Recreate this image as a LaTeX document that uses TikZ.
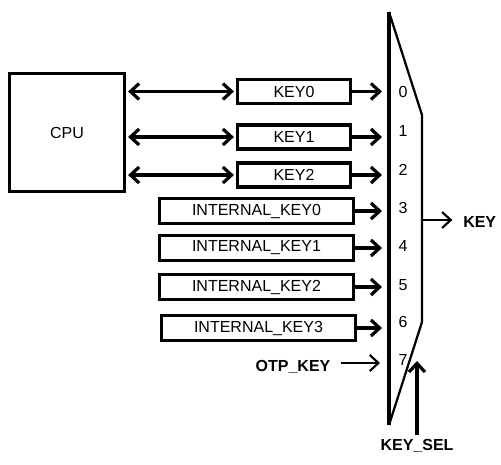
\documentclass[tikz,border=0pt]{standalone}
\usepackage{fontspec}
\setmainfont{Liberation Sans}
\usetikzlibrary{arrows.meta}
\begin{document}
\begin{tikzpicture}[x=0.75pt,y=-0.75pt,
  every node/.style={font=\fontsize{12}{14}\selectfont, inner sep=0pt},
  kbox/.style={draw, line width=2.4pt, minimum width=84.75pt, minimum height=18pt},
  ibox/.style={draw, line width=2.4pt, minimum width=145.5pt, minimum height=18.75pt},
  thickarr/.style={line width=2.4pt, -{Straight Barb[length=6.5pt,width=12pt]}},
  thinarr/.style={line width=1.6pt, -{Straight Barb[length=6.5pt,width=12pt]}},
  dblarr/.style={line width=2.4pt, {Straight Barb[length=6.5pt,width=12pt]}-{Straight Barb[length=6.5pt,width=12pt]}},
  bold/.style={font=\fontsize{12}{14}\selectfont\bfseries}
]
\useasboundingbox (0,0) rectangle (501,465);
% CPU
\node[draw, line width=2.4pt, minimum width=86.25pt, minimum height=88.5pt] (cpu) at (67,132.5) {CPU};
% key boxes
\node[kbox] (k0) at (294,91.5) {KEY0};
\node[kbox] (k1) at (294,137) {KEY1};
\node[kbox] (k2) at (294,175) {KEY2};
\node[ibox] (i0) at (256.5,211) {INTERNAL\_KEY0};
\node[ibox] (i1) at (256.5,248) {INTERNAL\_KEY1};
\node[ibox] (i2) at (256.5,287) {INTERNAL\_KEY2};
\node[ibox] (i3) at (258.5,328) {INTERNAL\_KEY3};
% CPU double arrows
\foreach \k in {k0,k1,k2}{
  \draw[dblarr] ([xshift=1.5pt]cpu.east |- \k.west) -- ([xshift=-1.5pt]\k.west);
}
% mux
\coordinate (mtl) at (389,12);
\coordinate (mtr) at (422,115);
\coordinate (mbr) at (422,322);
\coordinate (mbl) at (389,425);
\coordinate (min) at (382,0);
\draw[line width=2.4pt] (mtl) -- (mbl);
\draw[line width=1.7pt, line join=miter] (mtl) -- (mtr) -- (mbr) -- (mbl);
% input numbers
\node (n0) at (403,92) {0};
\node (n1) at (403,131) {1};
\node (n2) at (403,170) {2};
\node (n3) at (403,208) {3};
\node (n4) at (403,246) {4};
\node (n5) at (403,285) {5};
\node (n6) at (403,322) {6};
\node (n7) at (403,360) {7};
% inputs
\foreach \k in {k0,k1,k2,i0,i1,i2,i3}{
  \draw[thickarr] (\k.east) -- (\k.east -| min);
}
% OTP_KEY
\node[bold] (otp) at (293,367) {OTP\_KEY};
\coordinate (otpe) at (380,363);
\draw[thinarr] (otp.east |- otpe) ++(10,0) -- (otpe);
% output
\coordinate (mout) at (422,220);
\node[bold, anchor=west] (key) at (463,222) {KEY};
\draw[thinarr] (mout) -- ([xshift=-8pt]key.west |- mout);
% KEY_SEL
\node[bold] (sel) at (417,446) {KEY\_SEL};
\coordinate (selt) at (417,361);
\draw[thickarr] ([yshift=3pt]sel.north) -- (selt);
\end{tikzpicture}
\end{document}
